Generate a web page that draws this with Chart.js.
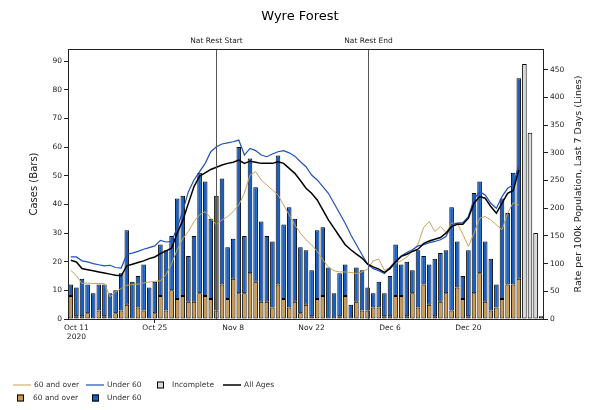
<!DOCTYPE html>
<html>
<head>
<meta charset="utf-8">
<title>Wyre Forest</title>
<script src="https://cdn.jsdelivr.net/npm/chart.js@4.4.0/dist/chart.umd.min.js"></script>
<style>
body{margin:0;background:#fff;}
#wrap{width:600px;height:410px;}
</style>
</head>
<body>
<div id="wrap"><canvas id="myChart" width="600" height="410"></canvas></div>
<script>
// days shown, first bar is 10 Oct 2020
const firstDay = [2020, 9, 10];
const dayCount = 85;
const tickDates = ['Oct 11', 'Oct 25', 'Nov 8', 'Nov 22', 'Dec 6', 'Dec 20'];

// daily cases (bars), complete days only
const over60Cases = [8,1,1,2,0,3,1,0,2,3, 5,0,4,3,0,2,8,3,10,7, 8,6,6,9,8,7,3,12,7,14,
  9,9,16,13,6,6,4,12,7,4, 6,2,5,1,7,8,0,0,1,8, 0,6,3,3,4,4,1,1,8,8,
  1,9,4,12,5,1,6,9,3,11, 7,1,9,16,6,3,4,7,12,12, 14];
const under60Cases = [4,10,13,10,9,9,11,9,8,13, 26,13,11,16,11,11,18,21,19,35, 35,16,23,42,40,28,40,37,18,14,
  51,20,40,33,28,23,23,45,26,35, 29,23,19,16,24,24,18,9,15,11, 5,12,14,8,5,9,8,14,18,11,
  19,8,20,10,14,20,17,15,36,16, 8,23,35,32,21,18,8,35,25,39, 70];
// last four days, not yet complete
const incompleteCases = [89, 65, 30, 1];

// rate per 100k, last 7 days (lines)
const rateOver60 = [88,78,64,65,64,64,64,40,49,55, 61,62,63,65,67,68,69,80,100,125, 145,158,176,188,194,182,170,179,185,194,
  206,227,260,266,251,242,233,224,206,188, 170,155,143,134,122,107,94,87,85,85, 84,82,85,90,105,108,88,93,100,105,
  112,122,135,165,176,158,167,156,173,173, 153,131,155,182,185,179,170,161,191,210, 206];
const rateUnder60 = [112,112,105,103,100,98,96,97,93,92, 117,119,122,126,129,132,142,139,140,165, 195,230,251,266,281,302,311,316,318,320,
  323,296,308,304,296,293,298,302,304,300, 294,284,275,260,251,239,227,209,191,173, 152,134,116,99,91,87,82,93,105,114,
  120,125,132,134,138,140,143,149,170,173, 174,185,216,230,224,209,200,221,236,242, 278];
const rateAllAges = [106,103,91,89,87,85,83,81,79,78, 96,99,102,105,109,112,118,123,128,155, 178,209,239,258,264,270,274,278,281,283,
  287,281,285,283,281,281,281,284,281,272, 263,250,236,227,215,197,179,164,149,134, 125,117,110,99,94,90,84,91,103,113,
  117,122,126,136,141,144,147,155,167,171, 171,182,209,221,218,203,191,209,227,232, 269];

const restrictions = [
  { day: 'Nov 5', text: 'Nat Rest Start' },
  { day: 'Dec 2', text: 'Nat Rest End' }
];

const months = ['Jan','Feb','Mar','Apr','May','Jun','Jul','Aug','Sep','Oct','Nov','Dec'];
const labels = [];
for (let i = 0; i < dayCount; i++) {
  const d = new Date(firstDay[0], firstDay[1], firstDay[2] + i);
  labels.push(months[d.getMonth()] + ' ' + d.getDate());
}
const incompleteData = new Array(dayCount - incompleteCases.length).fill(null).concat(incompleteCases);

const FONT = 'DejaVu Sans';
const tanBar = '#cc9a4e';
const blueBar = '#1560c8';
const tanLine = '#c9a257';
const blueLine = '#2050b8';

const decor = {
  id: 'decor',
  afterDatasetsDraw(chart) {
    const ctx = chart.ctx, area = chart.chartArea, x = chart.scales.x;
    ctx.save();
    ctx.strokeStyle = '#555';
    ctx.lineWidth = 1;
    ctx.fillStyle = '#222';
    ctx.font = '7.5px "' + FONT + '"';
    ctx.textAlign = 'center';
    ctx.textBaseline = 'alphabetic';
    restrictions.forEach(r => {
      const px = Math.round(x.getPixelForValue(labels.indexOf(r.day))) + 0.5;
      ctx.beginPath();
      ctx.moveTo(px, area.top);
      ctx.lineTo(px, area.bottom);
      ctx.stroke();
      ctx.fillText(r.text, px, area.top - 6);
    });
    ctx.restore();
  },
  afterDraw(chart) {
    const ctx = chart.ctx, area = chart.chartArea;
    ctx.save();
    // frame
    ctx.strokeStyle = '#222';
    ctx.lineWidth = 1;
    ctx.strokeRect(Math.round(area.left) + 0.5, Math.round(area.top) + 0.5,
      Math.round(area.right - area.left) - 1, Math.round(area.bottom - area.top));
    // title
    ctx.fillStyle = '#000';
    ctx.textAlign = 'center';
    ctx.textBaseline = 'middle';
    ctx.font = '13px "' + FONT + '"';
    ctx.fillText('Wyre Forest', 300, 17);
    // axis titles
    const midY = (area.top + area.bottom) / 2;
    ctx.fillStyle = '#222';
    ctx.font = '10px "' + FONT + '"';
    ctx.save();
    ctx.translate(34, midY);
    ctx.rotate(-Math.PI / 2);
    ctx.fillText('Cases (Bars)', 0, 0);
    ctx.restore();
    ctx.font = '9.5px "' + FONT + '"';
    ctx.save();
    ctx.translate(579, midY);
    ctx.rotate(-Math.PI / 2);
    ctx.fillText('Rate per 100k Population, Last 7 Days (Lines)', 0, 0);
    ctx.restore();

    // legend
    ctx.font = '7.5px "' + FONT + '"';
    ctx.textAlign = 'left';
    ctx.fillStyle = '#333';
    function lineItem(x0, y, color, w, text) {
      ctx.strokeStyle = color;
      ctx.lineWidth = w;
      ctx.beginPath();
      ctx.moveTo(x0, y);
      ctx.lineTo(x0 + 18, y);
      ctx.stroke();
      ctx.fillText(text, x0 + 21, y);
    }
    function boxItem(x0, y, color, text, tx) {
      ctx.fillStyle = color;
      ctx.fillRect(x0, y - 3.5, 7, 7);
      ctx.strokeStyle = '#000';
      ctx.lineWidth = 1;
      ctx.strokeRect(x0 + 0.5, y - 3.5 + 0.5, 6, 6);
      ctx.fillStyle = '#333';
      ctx.fillText(text, tx, y);
    }
    lineItem(13, 385, tanLine, 1, '60 and over');
    lineItem(86, 385, blueLine, 1.2, 'Under 60');
    boxItem(157, 385, '#d9d9d9', 'Incomplete', 172);
    lineItem(223, 385, '#000', 1.5, 'All Ages');
    boxItem(17, 398, tanBar, '60 and over', 33);
    boxItem(92, 398, blueBar, 'Under 60', 107);
    ctx.restore();
  }
};

const tickColor = c => tickDates.includes(labels[c.index]) ? '#222' : 'rgba(0,0,0,0)';

const ctx = document.getElementById('myChart').getContext('2d');
const myChart = new Chart(ctx, {
  data: {
    labels: labels,
    datasets: [
      {
        type: 'line', label: 'All Ages', data: rateAllAges, yAxisID: 'y1',
        borderColor: '#000', borderWidth: 1.5, pointRadius: 0, tension: 0, order: 0
      },
      {
        type: 'line', label: 'Under 60', data: rateUnder60, yAxisID: 'y1',
        borderColor: blueLine, borderWidth: 1.2, pointRadius: 0, tension: 0, order: 1
      },
      {
        type: 'line', label: '60 and over', data: rateOver60, yAxisID: 'y1',
        borderColor: tanLine, borderWidth: 1, pointRadius: 0, tension: 0, order: 2
      },
      {
        type: 'bar', label: '60 and over', data: over60Cases, yAxisID: 'y', stack: 'cases',
        backgroundColor: tanBar, borderColor: '#000', borderWidth: 1, borderSkipped: false,
        barPercentage: 0.82, categoryPercentage: 1, order: 3
      },
      {
        type: 'bar', label: 'Under 60', data: under60Cases, yAxisID: 'y', stack: 'cases',
        backgroundColor: blueBar, borderColor: '#000', borderWidth: 1, borderSkipped: false,
        barPercentage: 0.82, categoryPercentage: 1, order: 4
      },
      {
        type: 'bar', label: 'Incomplete', data: incompleteData, yAxisID: 'y', stack: 'cases',
        backgroundColor: '#d9d9d9', borderColor: '#000', borderWidth: 1, borderSkipped: false,
        barPercentage: 0.82, categoryPercentage: 1, order: 5
      }
    ]
  },
  options: {
    responsive: false,
    animation: false,
    layout: { padding: { top: 49, left: 0, right: 0, bottom: 0 } },
    plugins: {
      legend: { display: false },
      tooltip: { enabled: false }
    },
    scales: {
      x: {
        stacked: true,
        offset: true,
        border: { display: false },
        grid: { offset: false, drawOnChartArea: false, drawTicks: true, tickLength: 4, color: tickColor },
        ticks: {
          autoSkip: false, maxRotation: 0, padding: 1, color: '#222',
          font: { family: FONT, size: 7.5 },
          callback: function (v, i) {
            const l = labels[i];
            if (!tickDates.includes(l)) return null;
            return l === 'Oct 11' ? [l, '2020'] : l;
          }
        },
        afterFit: s => { s.height = 91; }
      },
      y: {
        stacked: true, position: 'left', min: 0, max: 94.2,
        border: { display: false },
        grid: { drawOnChartArea: false, tickLength: 4, color: '#222' },
        ticks: { stepSize: 10, includeBounds: false, padding: 2, color: '#222', font: { family: FONT, size: 7.5 } },
        afterFit: s => { s.width = 68; }
      },
      y1: {
        position: 'right', min: 0, max: 487.5,
        border: { display: false },
        grid: { drawOnChartArea: false, tickLength: 4, color: '#222' },
        ticks: { stepSize: 50, includeBounds: false, padding: 2, color: '#222', font: { family: FONT, size: 7.5 } },
        afterFit: s => { s.width = 56; }
      }
    }
  },
  plugins: [decor]
});
</script>
</body>
</html>
